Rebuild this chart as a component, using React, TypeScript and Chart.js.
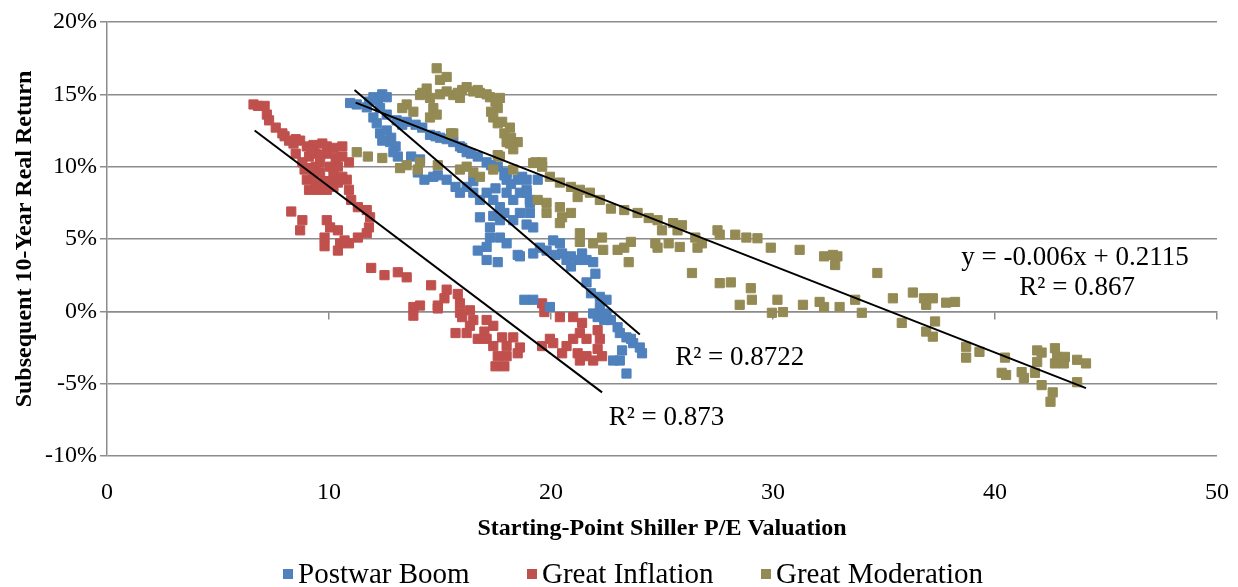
import { useEffect, useRef } from 'react';
import { Chart, registerables } from 'chart.js';
Chart.register(...registerables);

// Starting-point Shiller P/E vs subsequent 10-year real return (%)
const postwarBoom: [number, number][] = [
  [10.95, 14.4], [11.25, 14.3], [11.7, 14.1], [11.8, 14.5], [12.0, 14.8], [12.2, 14.6], [12.4, 15.0], [12.6, 14.8],
  [12.3, 14.05], [12.0, 13.4], [12.15, 13.0], [12.3, 12.3], [12.6, 12.5], [12.75, 11.7], [12.4, 11.8], [13.0, 11.4],
  [13.1, 10.7], [12.9, 11.0], [12.6, 13.6], [13.05, 13.2], [13.5, 13.1], [13.9, 12.9], [14.2, 12.7], [14.55, 12.2],
  [15.0, 12.0], [15.6, 11.7], [15.9, 11.4], [16.0, 11.3], [16.2, 11.0], [16.7, 10.7], [17.1, 10.3], [17.6, 10.0],
  [18.0, 9.6], [18.5, 9.1], [18.9, 9.1], [13.7, 10.7], [14.1, 10.5], [14.0, 9.6], [14.3, 9.1], [14.7, 9.3],
  [14.9, 9.4], [15.3, 9.1], [15.7, 8.6], [15.9, 8.2], [16.2, 8.6], [16.5, 8.2], [16.5, 9.0], [16.8, 7.7],
  [17.1, 8.2], [17.4, 7.7], [17.7, 7.2], [18.0, 8.2], [18.3, 7.7], [18.6, 8.2], [18.9, 8.4], [19.05, 7.7],
  [18.6, 6.8], [18.3, 6.3], [17.7, 6.3], [17.25, 5.8], [16.8, 6.5], [17.25, 5.1], [17.7, 5.1], [17.1, 4.45],
  [16.7, 4.2], [17.1, 3.55], [17.6, 3.4], [18.0, 4.7], [18.5, 3.9], [19.2, 4.0], [19.2, 5.8], [19.05, 6.8],
  [19.4, 9.1], [18.0, 9.1], [18.7, 9.3], [18.9, 8.2], [19.05, 7.5], [18.6, 3.8], [20.1, 4.9], [20.4, 4.7],
  [19.8, 4.2], [20.5, 4.0], [20.9, 3.8], [21.2, 3.55], [21.4, 4.0], [21.6, 3.55], [21.9, 3.4], [20.9, 3.1],
  [20.7, 3.55], [21.6, 2.0], [21.8, 1.25], [22.2, 1.0], [22.5, 0.8], [22.2, 0.3], [22.5, -0.15], [22.7, -0.6],
  [23.0, -1.1], [23.1, -1.5], [23.4, -1.8], [23.7, -2.2], [24.0, -2.5], [24.1, -2.9], [23.2, -2.7], [23.1, -3.4],
  [23.4, -4.3], [22.8, -3.4], [22.4, -0.6], [22.1, -0.4], [21.9, -0.15], [18.8, 0.8], [19.2, 0.8], [19.95, 0.3],
  [12.8, 12.0], [13.3, 12.9], [14.8, 12.1], [15.3, 11.9], [16.4, 10.9], [17.3, 10.1], [17.9, 9.4], [17.5, 8.5],
  [18.2, 8.8], [17.9, 6.8], [17.4, 6.6], [18.9, 6.0], [19.5, 4.4], [20.2, 3.9], [22.0, 2.6], [23.6, -1.9],
];

const greatInflation: [number, number][] = [
  [6.6, 14.3], [6.8, 14.2], [7.1, 14.2], [7.2, 13.6], [7.3, 13.2], [7.6, 12.7], [7.9, 12.3], [8.0, 12.1],
  [8.2, 11.8], [8.5, 11.9], [8.7, 11.8], [9.0, 11.4], [9.3, 11.5], [9.7, 11.6], [9.9, 11.4], [9.1, 10.7],
  [9.4, 10.9], [9.9, 10.9], [10.2, 11.3], [10.6, 11.4], [10.6, 10.7], [10.9, 10.3], [10.4, 10.0], [10.05, 10.0],
  [9.6, 10.3], [8.8, 10.3], [8.5, 10.9], [8.9, 9.8], [9.0, 9.1], [9.3, 9.5], [9.4, 10.0], [9.6, 9.6],
  [10.2, 9.5], [10.6, 9.3], [10.8, 9.1], [9.1, 8.4], [9.5, 8.4], [9.9, 8.4], [10.2, 8.6], [10.0, 8.9],
  [10.9, 8.4], [11.0, 7.7], [11.3, 7.2], [11.7, 7.0], [11.85, 6.5], [11.8, 5.8], [11.7, 5.4], [11.3, 5.1],
  [10.9, 4.7], [10.5, 4.7], [10.4, 5.6], [9.9, 6.3], [10.05, 5.8], [9.8, 5.1], [9.8, 4.5], [10.4, 4.2],
  [10.7, 4.9], [8.3, 6.9], [8.8, 6.3], [8.7, 5.6], [11.9, 3.0], [12.5, 2.5], [13.1, 2.7], [13.5, 2.35],
  [14.6, 1.8], [15.3, 1.5], [15.8, 1.2], [15.9, 0.55], [15.2, 0.9], [13.8, 0.3], [14.1, 0.4], [13.8, -0.3],
  [14.9, 0.4], [14.9, 0.2], [15.9, -0.1], [16.35, 0.07], [16.0, -0.4], [16.5, -0.6], [17.1, -0.6], [15.7, -1.5],
  [16.35, -1.0], [16.2, -1.5], [17.0, -1.4], [16.7, -1.9], [17.1, -1.9], [17.4, -1.0], [17.4, -2.4], [17.6, -3.1],
  [17.5, -3.8], [17.9, -3.8], [18.0, -3.1], [17.8, -1.8], [18.3, -1.8], [18.6, -2.5], [18.5, -2.9], [18.0, -2.4],
  [19.6, -2.4], [20.1, -2.2], [20.5, -2.9], [19.6, 0.55], [19.7, -0.05], [20.4, -0.4], [21.0, -0.4], [21.4, -0.8],
  [21.3, -1.5], [21.6, -1.9], [22.1, -1.3], [22.2, -1.9], [22.1, -2.6], [21.6, -3.1], [21.2, -2.9], [21.3, -3.4],
  [21.9, -3.4], [22.3, -3.1], [21.0, -1.9], [20.7, -2.4], [19.95, -1.9],
  [8.4, 11.6], [9.2, 11.1], [9.6, 10.8], [10.3, 10.6], [9.2, 9.9], [9.8, 9.0], [10.4, 8.9], [9.4, 8.8],
];

const greatModeration: [number, number][] = [
  [14.85, 16.8], [15.3, 16.2], [14.4, 15.4], [14.1, 14.95], [13.5, 14.3], [13.8, 13.8], [14.55, 14.75], [14.7, 14.05],
  [14.85, 13.6], [14.55, 13.4], [15.3, 15.2], [15.6, 14.95], [15.0, 15.0], [16.0, 15.3], [16.2, 15.5], [16.5, 15.2],
  [16.8, 15.1], [17.25, 14.8], [17.7, 14.75], [17.6, 14.05], [17.4, 13.4], [17.8, 13.1], [18.15, 12.7], [18.0, 11.7],
  [18.5, 11.7], [18.3, 11.2], [15.6, 12.3], [17.6, 10.8], [19.6, 10.3], [15.9, 14.75], [13.3, 14.05],
  [14.2, 15.1], [15.0, 16.0], [15.8, 15.1], [16.7, 15.3], [17.1, 15.0], [17.5, 14.5], [17.3, 13.8], [17.6, 13.0],
  [17.9, 12.3], [18.2, 12.0],
  [11.25, 11.0], [11.75, 10.7], [12.4, 10.6], [13.2, 9.9], [13.5, 10.1], [14.0, 9.8], [14.1, 10.3], [14.9, 10.1],
  [15.5, 12.3], [15.9, 9.8], [16.2, 10.0], [16.5, 9.6], [16.8, 9.3], [17.4, 9.8], [17.7, 10.7], [18.3, 9.8],
  [18.15, 11.6], [19.3, 10.3], [19.2, 10.25], [19.6, 10.0], [19.95, 9.3], [20.4, 8.9], [20.9, 8.6], [21.3, 8.4],
  [21.75, 8.2], [22.2, 7.7], [22.7, 7.1], [23.3, 7.0], [23.9, 6.8], [24.4, 6.45], [24.8, 6.3], [25.5, 6.1],
  [25.9, 5.95], [25.0, 5.6], [25.7, 5.6], [26.5, 5.1], [26.8, 4.7], [27.5, 5.6], [27.6, 5.3], [28.3, 5.3],
  [28.8, 5.1], [29.3, 5.05], [29.9, 4.4], [31.2, 4.25], [32.3, 3.8], [32.7, 3.9], [32.9, 3.8], [32.8, 3.2],
  [34.7, 2.65], [19.4, 7.7], [19.8, 7.5], [19.8, 6.8], [20.4, 7.2], [20.5, 6.5], [20.9, 6.8], [20.4, 6.1],
  [21.2, 7.9], [21.3, 5.4], [21.3, 4.8], [22.3, 5.1], [21.9, 4.7], [22.35, 4.25], [23.0, 4.25], [23.3, 4.4],
  [23.6, 4.8], [23.5, 3.4], [24.7, 4.7], [24.8, 4.4], [25.3, 4.7], [25.8, 4.45], [26.6, 4.4], [26.35, 2.65],
  [27.6, 1.95], [28.1, 2.0], [29.0, 1.6], [29.05, 0.8], [28.5, 0.45], [30.2, 0.8], [29.95, -0.1], [30.45, -0.05],
  [31.35, 0.45], [32.1, 0.65], [32.3, 0.3], [33.0, 0.3], [33.7, 0.8], [34.0, -0.1], [35.4, 0.9], [35.8, -0.8],
  [36.3, 1.3], [36.8, 0.9], [37.2, 0.9], [36.9, 0.45], [37.3, -0.7], [36.9, -1.4], [37.2, -1.75], [37.8, 0.6],
  [38.2, 0.65], [38.7, -2.45], [38.7, -3.2], [39.3, -2.8], [40.45, -3.2], [40.3, -4.25], [40.5, -4.4], [41.2, -4.2],
  [41.3, -4.6], [41.8, -4.25], [41.9, -2.7], [41.9, -3.5], [42.1, -2.85], [42.1, -5.1], [42.6, -5.6], [42.5, -6.25],
  [42.7, -2.55], [42.8, -3.15], [42.7, -3.6], [43.15, -3.15], [43.1, -3.6], [43.7, -3.35], [44.1, -3.6], [43.7, -4.9],
];

// Linear trend lines (x, y%)
const postwarTrend: [number, number][] = [[11.15, 15.3], [24.0, -1.6]];
const inflationTrend: [number, number][] = [[6.65, 12.5], [22.3, -5.6]];
const moderationTrendX = [11.2, 44.1];
const moderationSlope = -0.006;
const moderationIntercept = 0.2115;

const seriesNames = ['Postwar Boom', 'Great Inflation', 'Great Moderation'];
const seriesColors = ['#4F81BD', '#C0504D', '#948A54'];
const xTickValues = [0, 10, 20, 30, 40, 50];
const yTickValues = [-10, -5, 0, 5, 10, 15, 20];
const annotationTexts = ['R\u00B2 = 0.8722', 'R\u00B2 = 0.873', 'y = -0.006x + 0.2115', 'R\u00B2 = 0.867'];

const FONT = '"Liberation Serif", "DejaVu Serif", serif';
const GRID = '#8c8c8c';

const toPts = (arr: [number, number][]) => arr.map(([x, y]) => ({ x, y }));

const annotationPlugin = {
  id: 'trendText',
  afterDatasetsDraw(chart: any, _args: any, opts: any) {
    const { ctx, scales } = chart;
    ctx.save();
    ctx.fillStyle = '#000';
    ctx.font = `27px ${FONT}`;
    ctx.textAlign = 'center';
    ctx.textBaseline = 'middle';
    (opts.items || []).forEach((it: any) => {
      ctx.fillText(it.text, scales.x.getPixelForValue(it.x), scales.y.getPixelForValue(it.y));
    });
    ctx.restore();
  },
};

const legendPlugin = {
  id: 'bottomLegend',
  afterDraw(chart: any, _args: any, opts: any) {
    const { ctx } = chart;
    ctx.save();
    ctx.font = `29px ${FONT}`;
    ctx.textBaseline = 'middle';
    ctx.textAlign = 'left';
    seriesNames.forEach((name, i) => {
      const bx = opts.boxX[i];
      ctx.fillStyle = seriesColors[i];
      ctx.fillRect(bx, opts.y - 5, 10, 10);
      ctx.fillStyle = '#000';
      ctx.fillText(name, bx + 15, opts.y + 1);
    });
    ctx.restore();
  },
};

export default function App() {
  const ref = useRef<HTMLCanvasElement>(null);
  useEffect(() => {
    document.body.style.margin = '0';
    if (!ref.current) return;
    const series = [postwarBoom, greatInflation, greatModeration];
    const drawOrder = [2, 3, 1];
    const scatterSets = series.map((s, i) => ({
      label: seriesNames[i],
      data: toPts(s),
      xAxisID: 'x',
      backgroundColor: seriesColors[i],
      borderColor: seriesColors[i],
      borderWidth: 1,
      pointStyle: 'rect',
      pointRadius: 6.5,
      order: drawOrder[i],
    }));
    const modLine = moderationTrendX.map((x) => ({ x, y: (moderationSlope * x + moderationIntercept) * 100 }));
    const lineSets = [toPts(postwarTrend), toPts(inflationTrend), modLine].map((d, i) => ({
      label: 'trend' + i,
      data: d,
      xAxisID: 'x',
      showLine: true,
      borderColor: '#000',
      backgroundColor: '#000',
      borderWidth: 2,
      pointRadius: 0,
      order: 0,
    }));
    const chart = new Chart(ref.current, {
      type: 'scatter',
      data: { datasets: [...scatterSets, ...lineSets] as any },
      options: {
        animation: false,
        responsive: false,
        devicePixelRatio: 1,
        layout: { padding: { left: 0, top: 22, right: 21, bottom: 0 } },
        plugins: {
          legend: { display: false },
          tooltip: { enabled: false },
          trendText: {
            items: [
              { text: annotationTexts[0], x: 28.5, y: -3.2 },
              { text: annotationTexts[1], x: 25.2, y: -7.37 },
              { text: annotationTexts[2], x: 43.6, y: 3.7 },
              { text: annotationTexts[3], x: 43.7, y: 1.6 },
            ],
          },
          bottomLegend: { boxX: [283, 527, 761], y: 574 },
        } as any,
        scales: {
          x: {
            type: 'linear',
            position: 'bottom',
            min: 0,
            max: 50,
            afterBuildTicks: (s: any) => { s.ticks = xTickValues.map((v) => ({ value: v })); },
            afterFit: (s: any) => { s.height = 131; s.paddingLeft = 0; s.paddingRight = 0; },
            grid: { display: false, drawTicks: false },
            border: { display: false },
            ticks: { color: '#000', font: { family: FONT, size: 24 }, padding: 22 },
            title: {
              display: true,
              text: 'Starting-Point Shiller P/E Valuation',
              color: '#000',
              font: { family: FONT, size: 24, weight: 'bold' },
              padding: { top: 0, bottom: 44 },
            },
          },
          x2: {
            type: 'linear',
            axis: 'x',
            position: { y: 0 },
            min: 0,
            max: 50,
            afterBuildTicks: (s: any) => { s.ticks = xTickValues.map((v) => ({ value: v })); },
            afterFit: (s: any) => { s.paddingLeft = 0; s.paddingRight = 0; },
            grid: { drawOnChartArea: false, drawTicks: true, tickLength: 7, color: GRID, lineWidth: 1.5 },
            border: { display: true, color: GRID, width: 1.5 },
            ticks: { display: false },
          },
          y: {
            type: 'linear',
            min: -10,
            max: 20,
            afterBuildTicks: (s: any) => { s.ticks = yTickValues.map((v) => ({ value: v })); },
            afterFit: (s: any) => { s.width = 107; },
            grid: { color: GRID, lineWidth: 1.5, drawTicks: true, tickLength: 7 },
            border: { display: true, color: GRID, width: 1.5 },
            ticks: {
              color: '#000',
              font: { family: FONT, size: 24 },
              padding: 3,
              callback: (v: any) => `${v}%`,
            },
            title: {
              display: true,
              text: 'Subsequent 10-Year Real Return',
              color: '#000',
              font: { family: FONT, size: 24, weight: 'bold' },
              padding: { top: 10, bottom: 0 },
            },
          },
        } as any,
      },
      plugins: [annotationPlugin, legendPlugin],
    });
    return () => chart.destroy();
  }, []);
  return (
    <div style={{ width: 1238, height: 587 }}>
      <canvas ref={ref} width={1238} height={587} style={{ display: 'block' }} />
    </div>
  );
}
